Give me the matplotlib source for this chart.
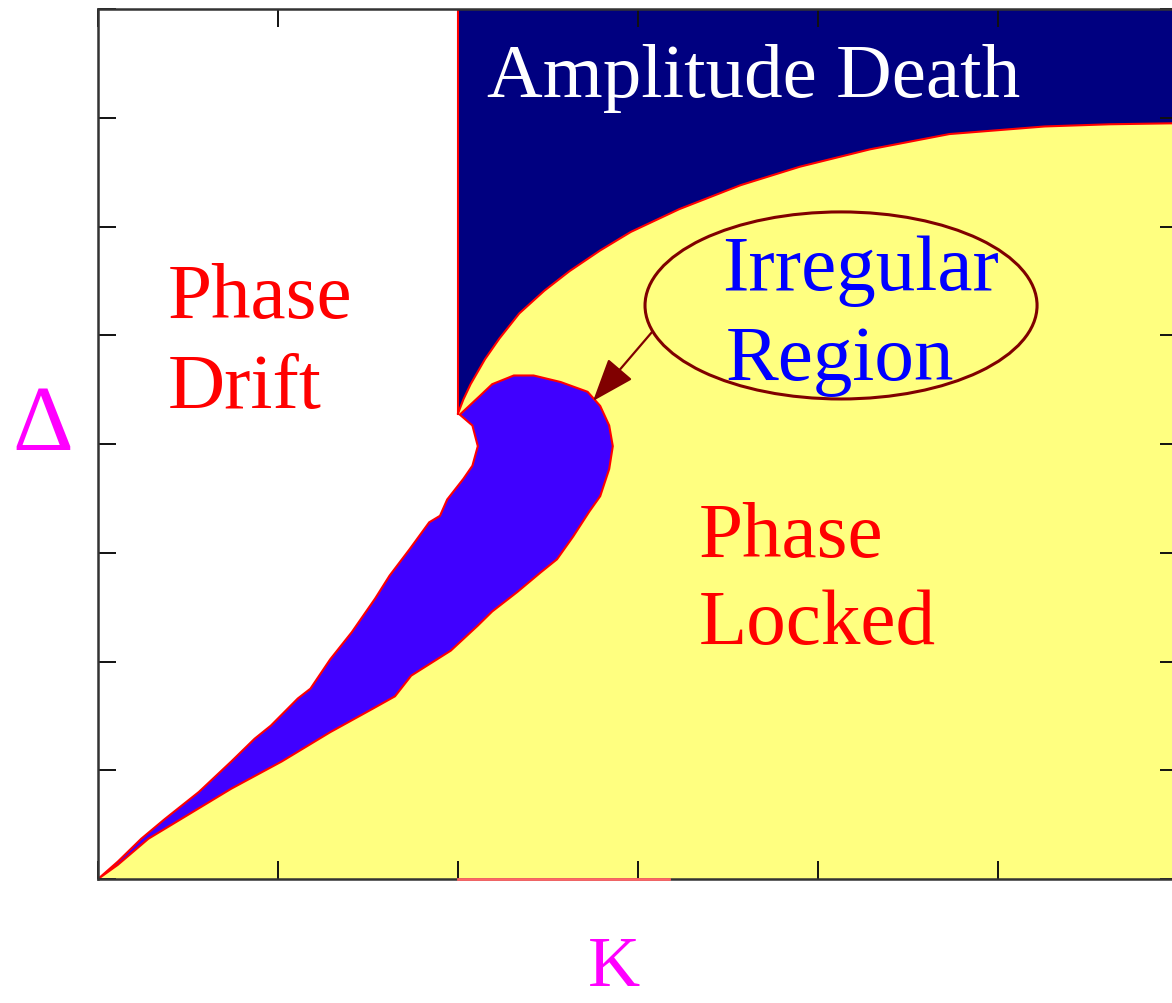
import numpy as np
import matplotlib
matplotlib.use("Agg")
import matplotlib.pyplot as plt
from matplotlib.patches import Ellipse

# boundary of the amplitude death region (K, Delta)
amp_k = [2.00, 2.03, 2.07, 2.15, 2.23, 2.34, 2.48, 2.62, 2.79, 2.96, 3.23, 3.57, 3.90, 4.29, 4.73, 5.26, 5.62, 6.01]
amp_d = [4.28, 4.41, 4.55, 4.78, 4.97, 5.20, 5.41, 5.59, 5.78, 5.95, 6.16, 6.38, 6.55, 6.71, 6.85, 6.92, 6.94, 6.95]

# irregular region: upper (drift side) edge from origin up to the notch
irr_up_k = [0.00, 0.11, 0.24, 0.37, 0.56, 0.74, 0.87, 0.96, 1.11, 1.18, 1.29, 1.41, 1.54, 1.62, 1.73, 1.84, 1.90, 1.94, 2.03, 2.08, 2.11, 2.08, 2.01]
irr_up_d = [0.00, 0.16, 0.37, 0.55, 0.80, 1.08, 1.29, 1.41, 1.66, 1.75, 2.02, 2.27, 2.58, 2.79, 3.03, 3.28, 3.34, 3.49, 3.68, 3.80, 3.98, 4.17, 4.27]
# irregular region: top and locked side edge back down to origin
irr_lo_k = [2.12, 2.19, 2.31, 2.42, 2.57, 2.72, 2.79, 2.84, 2.86, 2.84, 2.79, 2.73, 2.64, 2.55, 2.46, 2.33, 2.19, 2.11, 1.96, 1.74, 1.65, 1.52, 1.29, 1.02, 0.74, 0.46, 0.28, 0.11, 0.00]
irr_lo_d = [4.44, 4.55, 4.63, 4.63, 4.57, 4.48, 4.35, 4.17, 3.98, 3.77, 3.52, 3.38, 3.15, 2.94, 2.82, 2.64, 2.46, 2.33, 2.10, 1.87, 1.68, 1.56, 1.35, 1.08, 0.83, 0.55, 0.37, 0.13, 0.00]

x_ticks = [0, 1, 2, 3, 4, 5, 6]
y_ticks = [0, 1, 2, 3, 4, 5, 6, 7, 8]

NAVY = '#000080'
YELLOW = '#ffff80'
IRR = '#4000ff'
RED = '#ff0000'
BROWN = '#800000'
MAG = '#ff00ff'
SERIF = ['Liberation Serif', 'DejaVu Serif']

fig = plt.figure(figsize=(11.72, 10.04), dpi=100)
ax = fig.add_axes([98 / 1172, 124 / 1004, 1080 / 1172, 870 / 1004])
ax.set_xlim(0, 6)
ax.set_ylim(0, 8)

top = 8.2
right = 6.3
# phase locked (yellow): everything below drift edge and below the death boundary
yk = irr_up_k + amp_k + [right, right]
yd = irr_up_d + amp_d + [amp_d[-1], 0]
ax.fill(yk, yd, color=YELLOW, lw=0)
# amplitude death
ax.fill(amp_k + [right, right, amp_k[0]], amp_d + [top, top, top], color=NAVY, lw=0)
ax.plot(amp_k, amp_d, color=RED, lw=1.5)
ax.plot([amp_k[0], amp_k[0]], [amp_d[0], top], color=RED, lw=1.5)
# irregular region
ax.fill(irr_up_k + irr_lo_k, irr_up_d + irr_lo_d, facecolor=IRR, edgecolor=RED, lw=1.5)

# label callout
ax.add_patch(Ellipse((4.128, 5.274), 2.178, 1.72, fill=False, edgecolor=BROWN, lw=2.2))
ax.annotate('', xy=(2.75, 4.395), xytext=(3.078, 5.03),
            arrowprops=dict(arrowstyle='-|>,head_length=1.35,head_width=0.5',
                            color=BROWN, lw=1.6, shrinkA=0, shrinkB=0, mutation_scale=20))

fs = 57
ax.text(2.16, 7.2, 'Amplitude Death', color='white', fontsize=55.5, family=SERIF)
ax.text(0.39, 5.17, 'Phase', color=RED, fontsize=fs, family=SERIF)
ax.text(0.39, 4.34, 'Drift', color=RED, fontsize=fs, family=SERIF)
ax.text(3.467, 5.425, 'Irregular', color='#0000ff', fontsize=fs, family=SERIF)
ax.text(3.49, 4.598, 'Region', color='#0000ff', fontsize=fs, family=SERIF)
ax.text(3.34, 2.97, 'Phase', color=RED, fontsize=fs, family=SERIF)
ax.text(3.34, 2.17, 'Locked', color=RED, fontsize=fs, family=SERIF)

# pink stretch on the bottom axis
ax.plot([2.0, 3.17], [0, 0], color='#ff6666', lw=2, clip_on=False, zorder=5)

fig.text(43 / 1172, (1004 - 428) / 1004, 'Δ', color=MAG, fontsize=68, family=SERIF,
         ha='center', va='center')
fig.text(614 / 1172, 3 / 1004, 'K', color=MAG, fontsize=52, family=SERIF,
         ha='center', va='bottom')

ax.set_xticks(x_ticks)
ax.set_yticks(y_ticks)
ax.tick_params(direction='in', length=13, width=1.4, top=True, right=True,
               labelbottom=False, labelleft=False, color='#111111')
for s in ax.spines.values():
    s.set_linewidth(1.8)
    s.set_color('#333333')
    s.set_zorder(4)

fig.savefig('out.png', dpi=100)
